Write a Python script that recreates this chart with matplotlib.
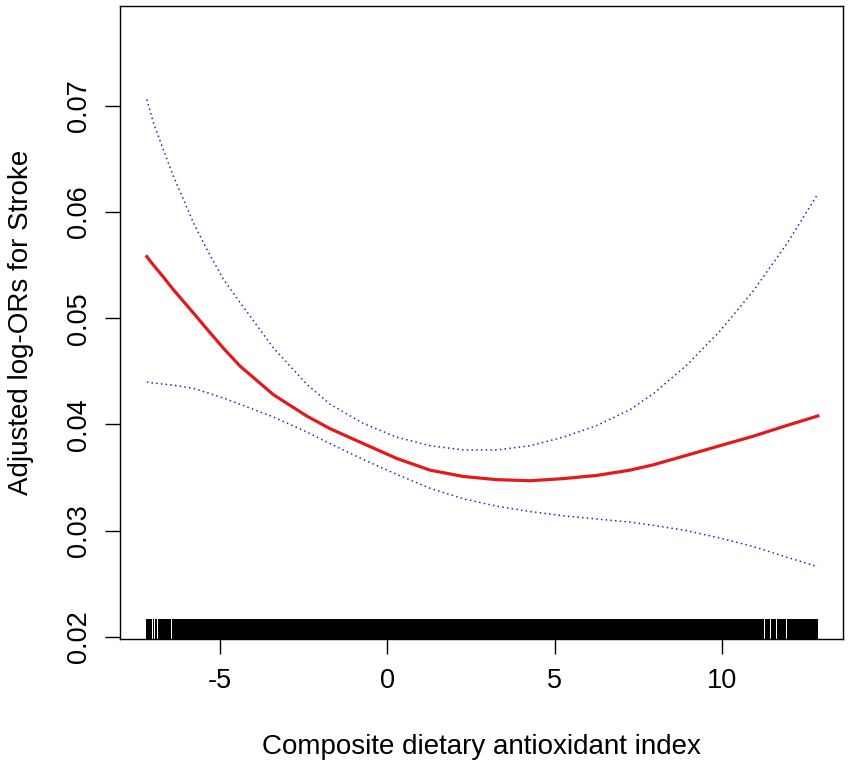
import matplotlib
matplotlib.use("Agg")
from matplotlib import pyplot as plt

plt.rcParams['font.family'] = ['Liberation Sans', 'DejaVu Sans']

# values
cdai = [-7.18, -6.98, -6.69, -6.39, -5.79, -5.39, -4.90, -4.40, -3.40, -2.41,
        -1.71, -0.72, 0.28, 1.27, 2.27, 3.27, 4.26, 5.25, 6.25, 7.25,
        7.94, 8.94, 9.93, 10.93, 11.92, 12.85]
fit = [0.0558, 0.0550, 0.0539, 0.0527, 0.0505, 0.0490, 0.0472, 0.0455, 0.0428, 0.0408,
       0.0396, 0.0382, 0.0368, 0.0357, 0.0351, 0.0348, 0.0347, 0.0349, 0.0352, 0.0357,
       0.0362, 0.0371, 0.0380, 0.0389, 0.0399, 0.0408]
upper = [0.0706, 0.0684, 0.0659, 0.0634, 0.0590, 0.0565, 0.0537, 0.0515, 0.0472, 0.0438,
         0.0419, 0.0401, 0.0388, 0.0380, 0.0376, 0.0376, 0.0380, 0.0388, 0.0399, 0.0414,
         0.0429, 0.0456, 0.0488, 0.0526, 0.0570, 0.0617]
lower = [0.0440, 0.0439, 0.0438, 0.0437, 0.0434, 0.0430, 0.0425, 0.0419, 0.0407, 0.0393,
         0.0382, 0.0367, 0.0353, 0.0340, 0.0330, 0.0323, 0.0318, 0.0314, 0.0311, 0.0308,
         0.0305, 0.0300, 0.0293, 0.0285, 0.0275, 0.0266]

# rug: runs of observations (start, end) on the x axis
rug_runs = [(-7.20, -7.02), (-6.99, -6.96), (-6.93, -6.88), (-6.85, -6.47),
            (-6.44, 11.24), (11.27, 11.43), (11.46, 11.61), (11.64, 11.91),
            (11.94, 12.85)]

fig = plt.figure(figsize=(8.51, 7.67), dpi=100)
ax = fig.add_axes([0.141, 0.1669, 0.8496, 0.8253])

ax.plot(cdai, upper, color='#2626c8', lw=1.1, linestyle=(0, (1, 2.1)))
ax.plot(cdai, lower, color='#2626c8', lw=1.1, linestyle=(0, (1, 2.1)))
ax.plot(cdai, fit, color='#e31a1a', lw=2.3, solid_joinstyle='round')

ax.broken_barh([(a, b - a) for a, b in rug_runs], (0, 0.031),
               facecolor='black', edgecolor='none',
               transform=ax.get_xaxis_transform())

ax.set_xlim(-7.98, 13.6)
ax.set_ylim(0.0198, 0.0794)
ax.set_xticks([-5, 0, 5, 10])
ax.set_xticklabels(['-5', '0', '5', '10'])
ax.set_yticks([0.02, 0.03, 0.04, 0.05, 0.06, 0.07])
ax.set_yticklabels(['0.02', '0.03', '0.04', '0.05', '0.06', '0.07'],
                   rotation=90, va='center')

for s in ax.spines.values():
    s.set_linewidth(1.0)
ax.tick_params(length=11, width=1.0, labelsize=19.5)
ax.tick_params(axis='x', pad=10)
ax.tick_params(axis='y', pad=9)

ax.set_xlabel('Composite dietary antioxidant index', fontsize=20, labelpad=29)
ax.set_ylabel('Adjusted log-ORs for Stroke', fontsize=20, labelpad=23)

fig.savefig('out.png', dpi=100)
